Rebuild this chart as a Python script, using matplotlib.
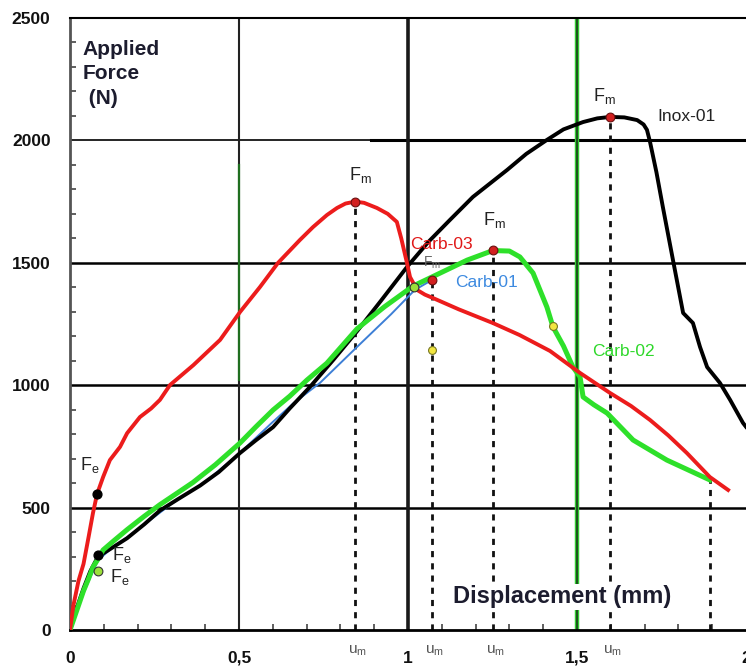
import matplotlib
matplotlib.use("Agg")
import matplotlib.pyplot as plt
from matplotlib.ticker import MultipleLocator

plt.rcParams['font.family'] = ['Liberation Sans', 'DejaVu Sans']

# Carb-03 (red)
carb03_x = [0, 0.01, 0.025, 0.04, 0.055, 0.068, 0.08, 0.098, 0.118, 0.148, 0.169, 0.207,
            0.24, 0.266, 0.296, 0.365, 0.444, 0.503, 0.562, 0.615, 0.68, 0.719, 0.76,
            0.79, 0.815, 0.843, 0.87, 0.908, 0.94, 0.967, 0.98, 0.997, 1.006, 1.027,
            1.05, 1.074, 1.15, 1.251, 1.33, 1.42, 1.509, 1.598, 1.66, 1.716, 1.77,
            1.825, 1.893, 1.947]
carb03_y = [0, 100, 200, 270, 380, 478, 555, 625, 694, 748, 804, 870,
            905, 940, 1001, 1082, 1185, 1299, 1401, 1499, 1593, 1646, 1695,
            1724, 1742, 1750, 1745, 1724, 1700, 1667, 1600, 1499, 1442, 1389,
            1370, 1356, 1310, 1254, 1205, 1140, 1050, 968, 915, 858, 795,
            723, 625, 572]

# Carb-02 (green)
carb02_x = [0, 0.02, 0.04, 0.055, 0.068, 0.083, 0.098, 0.13, 0.169, 0.22, 0.266, 0.32,
            0.364, 0.43, 0.503, 0.55, 0.601, 0.65, 0.701, 0.76, 0.849, 0.93, 1.015,
            1.095, 1.175, 1.251, 1.3, 1.331, 1.37, 1.411, 1.429, 1.46, 1.488, 1.509,
            1.518, 1.55, 1.589, 1.666, 1.766, 1.893]
carb02_y = [0, 80, 160, 210, 257, 290, 327, 365, 410, 465, 512, 562,
            603, 675, 764, 830, 899, 955, 1021, 1090, 1230, 1320, 1405,
            1458, 1511, 1550, 1548, 1524, 1458, 1319, 1238, 1160, 1074, 1034,
            952, 920, 886, 776, 694, 613]

# Inox-01 (black)
inox01_x = [0, 0.02, 0.04, 0.06, 0.083, 0.118, 0.169, 0.22, 0.266, 0.32, 0.385, 0.44,
            0.503, 0.55, 0.601, 0.65, 0.71, 0.78, 0.849, 0.92, 0.997, 1.06, 1.124,
            1.192, 1.293, 1.35, 1.411, 1.46, 1.518, 1.56, 1.598, 1.64, 1.678, 1.697,
            1.707, 1.716, 1.735, 1.754, 1.784, 1.814, 1.843, 1.864, 1.885, 1.923,
            1.953, 1.991, 2.0]
inox01_y = [0, 90, 170, 240, 300, 330, 375, 432, 488, 535, 590, 645,
            723, 775, 829, 905, 993, 1105, 1220, 1345, 1483, 1585, 1675,
            1769, 1879, 1945, 2002, 2045, 2075, 2090, 2096, 2094, 2083, 2065,
            2043, 1994, 1870, 1728, 1511, 1295, 1254, 1156, 1074, 1009,
            940, 846, 830]

# Carb-01 (blue)
carb01_x = [0, 0.02, 0.04, 0.06, 0.083, 0.12, 0.2, 0.3, 0.4, 0.5, 0.6, 0.66, 0.74,
            0.849, 0.95, 1.02, 1.071]
carb01_y = [0, 80, 150, 215, 285, 330, 410, 515, 605, 720, 850, 925, 1010,
            1156, 1290, 1389, 1430]

# characteristic points
fm_x = [0.843, 1.071, 1.251, 1.598]
fm_y = [1750, 1430, 1552, 2096]
fe_black_x = [0.08, 0.083]
fe_black_y = [555, 306]
fe_green_x = [0.083, 1.018]
fe_green_y = [240, 1401]
yellow_x = [1.071, 1.429]
yellow_y = [1144, 1242]
um_x = [0.843, 1.071, 1.251, 1.598, 1.893]
um_top = [1750, 1430, 1552, 2096, 613]
um_label_x = [0.843, 1.071, 1.251, 1.598]

x_ticks = [0, 0.5, 1, 1.5, 2]
x_ticklabels = ['0', '0,5', '1', '1,5', '2']
y_ticks = [0, 500, 1000, 1500, 2000, 2500]

fig = plt.figure(figsize=(7.46, 6.67), dpi=100)
ax = fig.add_axes([70 / 746, 37 / 667, 676 / 746, 612 / 667])
ax.set_xlim(0, 2.0)
ax.set_ylim(0, 2500)

# grid lines (drawn by hand, the scan has mixed colours)
for yv in [500, 1000, 1500]:
    ax.axhline(yv, color='black', lw=1.8, zorder=1)
ax.axhline(2000, color='black', lw=1.2, zorder=1)
ax.plot([0.89, 2.0], [2000, 2000], color='black', lw=2.2, zorder=1)
ax.axvline(0.5, color='#222222', lw=1.5, zorder=1)
ax.plot([0.5, 0.5], [1020, 1900], color='#1f6e1f', lw=1.6, zorder=1)
ax.axvline(1.0, color='#1a1a1a', lw=2.6, zorder=1)
ax.axvline(1.5, color='#33cc33', lw=3.2, zorder=1)
ax.axvline(1.5, color='#1a3a1a', lw=1.2, zorder=1)

# dashed u_m lines
for xv, yt in zip(um_x, um_top):
    ax.plot([xv, xv], [0, yt], color='#111111', lw=2, linestyle=(0, (2.2, 2.2)), zorder=2)

ax.plot(carb01_x, carb01_y, color='#3d7fd6', lw=1.4, zorder=3)
ax.plot(inox01_x, inox01_y, color='black', lw=2.8, zorder=4)
ax.plot(carb02_x, carb02_y, color='#2ee02a', lw=3.6, zorder=5)
ax.plot(carb03_x, carb03_y, color='#ec1c1c', lw=2.8, zorder=6)

ax.scatter(fm_x, fm_y, s=40, color='#d22020', edgecolor='#6a1010', lw=0.8, zorder=8)
ax.scatter(fe_black_x, fe_black_y, s=40, color='black', zorder=8)
ax.scatter(fe_green_x, fe_green_y, s=40, color='#9be03a', edgecolor='#333333', lw=0.8, zorder=8)
ax.scatter(yellow_x, yellow_y, s=32, color='#f2e640', edgecolor='#777722', lw=0.8, zorder=8)

# labels
lab = dict(fontsize=13, color='#222222', zorder=9)
ax.text(0.03, 654, 'F$_\\mathregular{e}$', **lab)
ax.text(0.124, 286, 'F$_\\mathregular{e}$', **lab)
ax.text(0.118, 196, 'F$_\\mathregular{e}$', **lab)
ax.text(0.858, 1859, 'F$_\\mathregular{m}$', ha='center', va='center', **lab)
ax.text(1.257, 1675, 'F$_\\mathregular{m}$', ha='center', va='center', **lab)
ax.text(1.58, 2181, 'F$_\\mathregular{m}$', ha='center', va='center', **lab)
ax.text(1.07, 1500, 'F$_\\mathregular{m}$', ha='center', va='center', fontsize=10,
        color='#666666', zorder=7)

ax.text(1.006, 1575, 'Carb-03', color='#e01818', fontsize=12.5, va='center', zorder=9)
ax.text(1.139, 1421, 'Carb-01', color='#3d8ae0', fontsize=12.5, va='center', zorder=9)
ax.text(1.544, 1136, 'Carb-02', color='#2ed82a', fontsize=12.5, va='center', zorder=9)
ax.text(1.737, 2096, 'Inox-01', color='#222222', fontsize=12.5, va='center', zorder=9)

ax.text(0.038, 2410, 'Applied\nForce\n (N)', fontsize=15, fontweight='bold',
        color='#1c1c2e', va='top', linespacing=1.35)
ax.text(1.133, 135, 'Displacement (mm)', fontsize=17, fontweight='bold',
        color='#1c1c2e', va='center', zorder=9,
        bbox=dict(facecolor='white', edgecolor='none', pad=1))

for xv in um_label_x:
    ax.text(xv - 0.02, -85, 'u$_\\mathregular{m}$', fontsize=11, color='#555555',
            ha='left', va='center', clip_on=False)

# axes, ticks
ax.set_xticks(x_ticks)
ax.set_xticklabels(x_ticklabels)
ax.set_yticks(y_ticks)
ax.xaxis.set_minor_locator(MultipleLocator(0.1))
ax.yaxis.set_minor_locator(MultipleLocator(100))
ax.tick_params(which='major', length=0, labelsize=12.5)
ax.tick_params(axis='x', which='major', pad=15)
ax.tick_params(axis='y', which='major', pad=14)
ax.tick_params(which='minor', direction='in', length=4, width=1.2, color='#444444')
for lbl in ax.get_xticklabels() + ax.get_yticklabels():
    lbl.set_fontweight('bold')
    lbl.set_color('#111111')

ax.spines['right'].set_visible(False)
ax.spines['left'].set_linewidth(2)
ax.spines['left'].set_color('#555555')
ax.spines['bottom'].set_linewidth(2)
ax.spines['top'].set_linewidth(1.5)

fig.savefig('out.png', dpi=100)
